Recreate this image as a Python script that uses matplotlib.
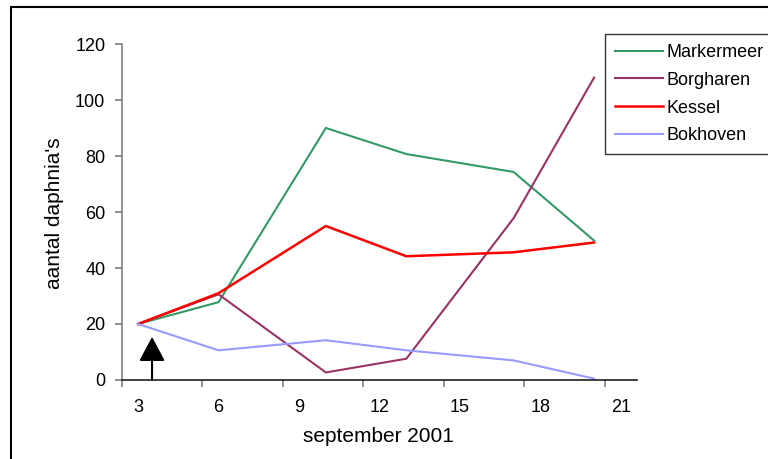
import numpy as np
import matplotlib.pyplot as plt
from matplotlib.patches import Rectangle

plt.rcParams['font.family'] = ['Liberation Sans', 'DejaVu Sans']

# sampling days in september 2001
days = [3, 6, 10, 13, 17, 20]
markermeer = [20, 27.8, 90, 80.7, 74.3, 49.8]
borgharen = [20, 30.6, 2.7, 7.6, 57.8, 108]
kessel = [20, 31, 55, 44.2, 45.6, 49.1]
bokhoven = [20, 10.6, 14.2, 10.6, 7.0, 0.5]

series = [('Markermeer', markermeer, '#339966', 1.5),
          ('Borgharen', borgharen, '#993366', 1.5),
          ('Kessel', kessel, '#ff0000', 1.8),
          ('Bokhoven', bokhoven, '#9999ff', 1.5)]

day_labels = [3, 6, 9, 12, 15, 18, 21]
tick_pos = [d - 0.6 for d in day_labels]

fig = plt.figure(figsize=(7.68, 4.59), dpi=100)
ax = fig.add_axes([122/768, 1-380/459, (637-122)/768, (380-44)/459])

for name, vals, col, lw in series:
    ax.plot(days, vals, color=col, lw=lw, label=name, solid_joinstyle='miter')

# arrow marking the start of the experiment
ax.annotate('', xy=(3.52, 15.4), xytext=(3.52, 0),
            arrowprops=dict(arrowstyle='-|>,head_width=0.8,head_length=1.5',
                            color='k', lw=1.5, shrinkA=0, shrinkB=0))

ax.set_xlim(2.4, 21.6)
ax.set_ylim(0, 120)
ax.set_yticks(np.arange(0, 121, 20))
ax.set_xticks(tick_pos)
ax.set_xticklabels([])
ax.set_xticks(day_labels, minor=True)
ax.tick_params(axis='x', which='minor', length=0, pad=14, labelsize=13)
ax.set_xticklabels([str(d) for d in day_labels], minor=True)
ax.tick_params(axis='x', which='major', length=5, width=1.2, color='#808080', direction='out')
ax.tick_params(axis='y', length=5, width=1.2, color='#808080', pad=7, labelsize=13)

for s in ['top', 'right']:
    ax.spines[s].set_visible(False)
ax.spines['left'].set_color('#808080')
ax.spines['left'].set_linewidth(1.2)
ax.spines['bottom'].set_color('#202020')
ax.spines['bottom'].set_linewidth(1.2)

fig.text(378/768, 1-437/459, 'september 2001', ha='center', va='center', fontsize=15)
fig.text(55/768, 1-213/459, "aantal daphnia's", ha='center', va='center',
         rotation=90, fontsize=15)

leg = ax.legend(loc='upper left', bbox_to_anchor=(605/768, 1-34/459),
                bbox_transform=fig.transFigure, frameon=True, fancybox=False,
                fontsize=13, handlelength=2.65, handletextpad=0.22,
                labelspacing=0.6, borderpad=0.55, borderaxespad=0)
leg.get_frame().set_edgecolor('black')
leg.get_frame().set_linewidth(1.0)

# outer chart frame
fig.add_artist(Rectangle((11/768, -0.1), 2, 1.1 - 7/459, transform=fig.transFigure,
                         fill=False, edgecolor='black', lw=1.5))

fig.savefig('out.png', dpi=100)
